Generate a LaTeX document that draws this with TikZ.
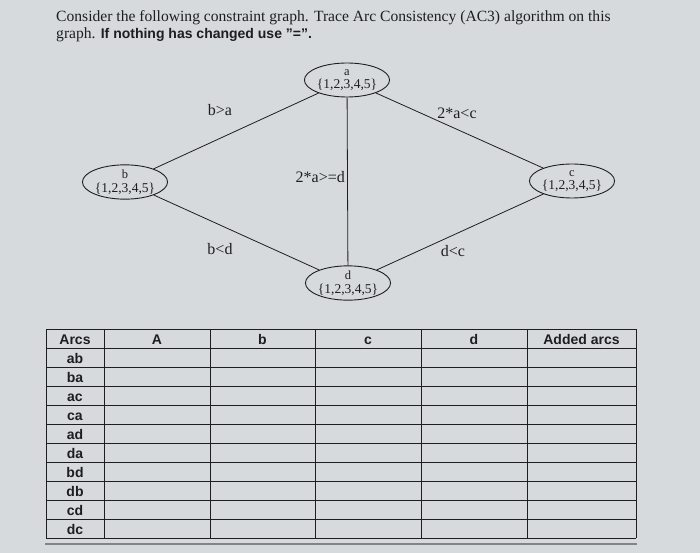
\documentclass[tikz,border=0pt]{standalone}
\usepackage{fontspec}
\setmainfont{Liberation Serif}
\setsansfont{Liberation Sans}
\usepackage{xcolor}
\usetikzlibrary{positioning,shapes.geometric}
\definecolor{paper}{RGB}{214,218,220}
\definecolor{ink}{RGB}{30,30,32}
\tikzset{
  var/.style={draw=ink, line width=0.9pt, ellipse, minimum width=74pt, minimum height=34pt,
    inner sep=0pt, align=center, text=ink, font=\fontsize{13.5}{12}\selectfont},
  edge/.style={draw=ink, line width=0.8pt},
  cons/.style={text=ink, inner sep=0pt, font=\fontsize{16}{16}\selectfont},
  quest/.style={anchor=base west, inner sep=0pt, text=ink, font=\fontsize{15.6}{16}\selectfont},
  rule/.style={draw=ink, line width=0.9pt},
  head/.style={anchor=base, inner sep=0pt, text=ink, font=\sffamily\bfseries\fontsize{14}{14}\selectfont}
}

\begin{document}
\begin{tikzpicture}[x=1pt,y=-1pt]
\fill [paper] (0,0) rectangle (700,553);
\useasboundingbox (0,0) rectangle (700,553);
% question
\node (q1) at (56,22) [quest] {Consider the following constraint graph. Trace Arc Consistency (AC3) algorithm on this};
\node (q2) at (56,39) [quest] {graph. {\sffamily\bfseries\fontsize{14}{14}\selectfont If nothing has changed use "=".}};
% variables
\node (a) at (347,80) [var] {{\fontsize{12.5}{11}\selectfont a}\\[1.5pt]\{1,2,3,4,5\}};
\node (b) at (125,182) [var] {{\fontsize{12.5}{11}\selectfont b}\\[1.5pt]\{1,2,3,4,5\}};
\node (c) at (572,181) [var] {{\fontsize{12.5}{11}\selectfont c}\\[1.5pt]\{1,2,3,4,5\}};
\node (d) at (348,283) [var] {{\fontsize{12.5}{11}\selectfont d}\\[1.5pt]\{1,2,3,4,5\}};
\draw [edge] (a) -- (b);
\draw [edge] (a) -- (c);
\draw [edge] (a) -- (d);
\draw [edge] (b) -- (d);
\draw [edge] (d) -- (c);
% constraints
\node (ba) at (220,110) [cons] {b>a};
\node (ac) at (457,113) [cons] {2*a<c};
\node (ad) at (345,177) [cons, anchor=east] {2*a>=d};
\node (bd) at (220,249) [cons] {b<d};
\node (dc) at (453,251) [cons] {d<c};
% table
\foreach \y in {0,...,11}
  \draw [rule] (46,{329+19*\y}) -- (636,{329+19*\y});
\foreach \x in {46,104,210,315,421,527,636}
  \draw [rule] (\x,329) -- (\x,538);
\foreach \x/\t [count=\i] in {75/Arcs,157/A,262.5/b,368/c,474/d,581.5/Added arcs}
  \node (h\i) at (\x,344) [head] {\t};
\foreach \t [count=\i] in {ab,ba,ac,ca,ad,da,bd,db,cd,dc}
  \node (r\i) at (75,{344+19*\i}) [head] {\t};
\draw [line width=1.4pt, ink!55] (45,544) -- (637,544);
\end{tikzpicture}
\end{document}
